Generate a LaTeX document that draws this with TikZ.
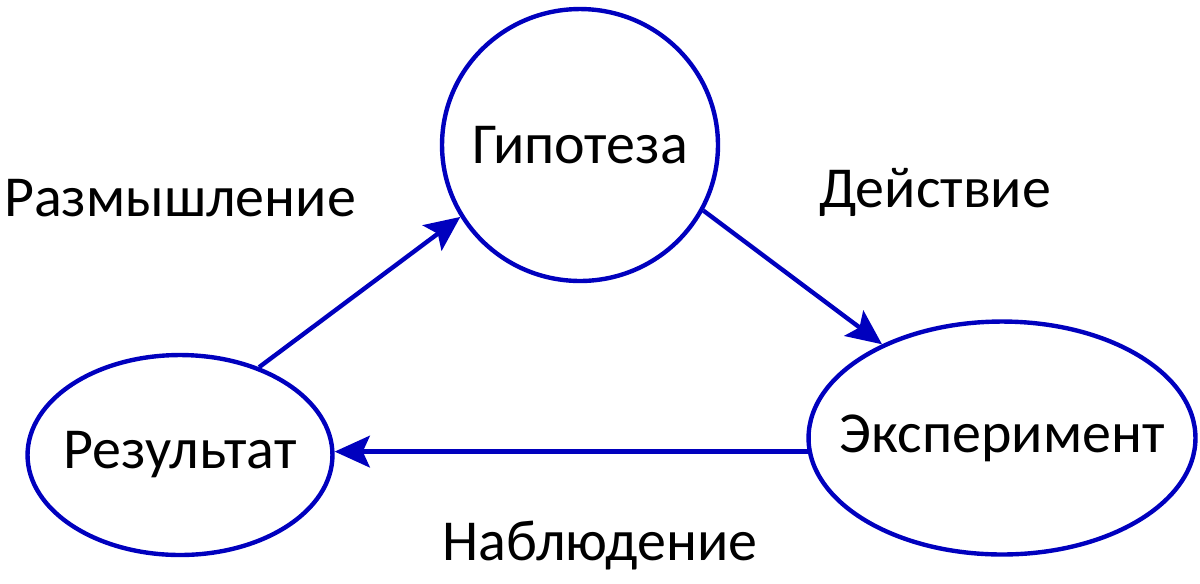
\documentclass[tikz,border=0pt]{standalone}
\usepackage{fontspec}
\setmainfont{Carlito}
\usetikzlibrary{shapes.geometric,arrows.meta}
\definecolor{cycblue}{RGB}{0,0,190}
\tikzset{
  stage/.style={ellipse, draw=cycblue, line width=2.5pt, inner sep=0pt},
  flow/.style={draw=cycblue, line width=2.5pt, -{Stealth[length=20pt,width=18pt,inset=4pt]}},
  lbl/.style={font=\fontsize{33}{40}\selectfont, text=black, inner sep=0pt}
}
\begin{document}
\begin{tikzpicture}[x=0.02cm,y=-0.02cm]
\useasboundingbox (0,0) rectangle (1200,583);
\node[stage, minimum width=5.52cm, minimum height=5.44cm] (hyp) at (580,145) {};
\node[stage, minimum width=6.1cm, minimum height=4cm] (res) at (180,455) {};
\node[stage, minimum width=7.74cm, minimum height=4.66cm] (exp) at (1002,438) {};
\node[lbl] (thyp) at (hyp.center) {Гипотеза};
\node[lbl] (tres) at (res.center) {Результат};
\node[lbl] (texp) at (exp.center) {Эксперимент};
\node[lbl] (l1) at (180,198) {Размышление};
\node[lbl] (l2) at (935,192) {Действие};
\node[lbl] (l3) at (600,546) {Наблюдение};
\draw[flow] (res.48) -- (hyp.211);
\draw[flow] (hyp.-28) -- (exp.142);
\draw[flow] (exp.184) -- (exp.184 -| res.east);
\end{tikzpicture}
\end{document}
